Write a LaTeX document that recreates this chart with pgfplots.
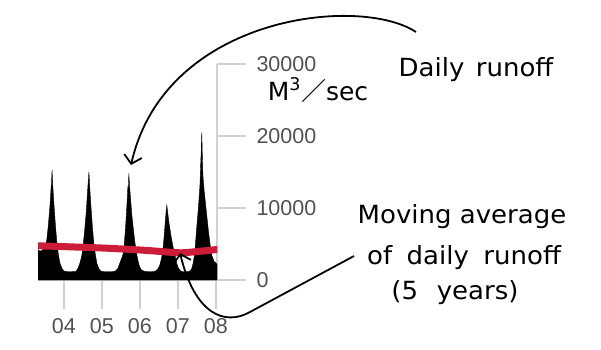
\documentclass[border=0pt]{standalone}
\usepackage{pgfplots}
\pgfplotsset{compat=1.18}
\usepackage{graphicx}
\usepackage{fontspec}
\setmainfont{Liberation Sans}
\newfontfamily\dejavu{DejaVu Sans}
\newfontfamily\jp{Noto Sans CJK JP}
\usetikzlibrary{arrows.meta}
\definecolor{mavg}{RGB}{205,28,55}
\definecolor{axgray}{RGB}{208,208,208}
\newcommand{\ann}[1]{\scalebox{1.04}[1]{#1}}
\begin{document}
\begin{tikzpicture}
\useasboundingbox (0pt,0pt) rectangle (601pt,349pt);
\begin{axis}[
  at={(38pt,69pt)}, anchor=south west, scale only axis,
  width=179pt, height=216pt,
  xmin=2003.32, xmax=2008.03, ymin=0, ymax=30000,
  axis x line*=bottom, axis y line*=right,
  axis line style={draw=axgray, line width=1.5pt},
  xtick={2004,2005,2006,2007,2008}, xticklabels={04,05,06,07,08},
  ytick={0,10000,20000,30000},
  scaled y ticks=false,
  yticklabel style={/pgf/number format/1000 sep={}, xshift=7pt},
  xticklabel style={yshift=-6pt},
  tick align=outside, major tick length=29pt,
  tick style={draw=axgray, line width=1.5pt},
  ticklabel style={font=\fontsize{21.5}{22}\selectfont, text=black!68},
  /pgf/number format/assume math mode=true,
]
\addplot[fill=black, draw=black, line width=0.4pt] table {
x y
2003.32 4200
2003.37 4000
2003.42 4100
2003.47 4300
2003.51 4800
2003.55 5500
2003.59 7500
2003.63 10000
2003.66 12500
2003.675 13500
2003.69 15300
2003.71 13000
2003.74 10500
2003.78 7500
2003.82 5000
2003.86 3400
2003.90 2300
2003.95 1600
2004.00 1250
2004.10 1150
2004.22 1150
2004.32 1200
2004.37 1600
2004.42 2300
2004.47 3300
2004.51 5000
2004.55 7000
2004.59 9500
2004.62 12000
2004.64 13500
2004.66 15000
2004.68 13000
2004.71 10500
2004.75 7500
2004.79 5000
2004.83 3500
2004.87 2300
2004.92 1600
2004.97 1250
2005.05 1150
2005.20 1150
2005.28 1150
2005.36 1250
2005.42 1600
2005.47 2300
2005.52 3000
2005.56 3600
2005.59 5000
2005.62 7000
2005.65 9500
2005.67 11500
2005.685 13000
2005.695 12300
2005.71 14800
2005.73 13000
2005.76 11000
2005.79 9000
2005.83 7000
2005.87 5200
2005.91 3800
2005.95 2700
2005.99 1900
2006.04 1400
2006.12 1200
2006.22 1150
2006.30 1150
2006.40 1200
2006.47 1500
2006.52 2000
2006.56 2800
2006.60 3800
2006.63 5500
2006.66 7500
2006.69 9500
2006.71 10400
2006.73 9500
2006.76 8200
2006.80 6800
2006.84 5500
2006.89 4200
2006.93 3300
2006.97 2300
2007.01 1700
2007.06 1300
2007.12 1150
2007.22 1150
2007.30 1200
2007.36 1500
2007.40 2300
2007.44 3500
2007.47 5500
2007.50 7500
2007.54 10000
2007.58 13000
2007.60 16000
2007.615 18000
2007.63 20500
2007.645 17000
2007.66 14500
2007.69 12500
2007.73 10500
2007.77 8500
2007.81 6500
2007.86 4500
2007.90 3300
2007.95 2600
2008.03 2200
} \closedcycle;
\addplot[mavg, line width=7pt, smooth] coordinates {
(2003.30,4750) (2004.2,4600) (2005.2,4400) (2006.2,4100) (2006.8,3850) (2007.1,3780) (2007.5,3950) (2008.05,4250)
};
\end{axis}
% annotations
\node[anchor=base, font=\dejavu\fontsize{25}{25}\selectfont] at (476pt,273pt) {\ann{Daily\hspace{3pt} runoff}};
\node[anchor=base, font=\dejavu\fontsize{25}{25}\selectfont] at (318pt,249pt) {M\textsuperscript{3}{\jp ／}sec};
\node[anchor=base, font=\dejavu\fontsize{25}{25}\selectfont] at (462pt,126pt) {\ann{Moving average}};
\node[anchor=base, font=\dejavu\fontsize{25}{25}\selectfont] at (464pt,85pt) {\ann{of\hspace{6pt} daily\hspace{6pt} runoff}};
\node[anchor=base, font=\dejavu\fontsize{25}{25}\selectfont] at (455pt,50pt) {\ann{(5\hspace{10pt} years)}};
\draw[line width=1.8pt, -{Straight Barb[length=8pt,width=18pt]}]
  (416pt,317pt) .. controls (360pt,354pt) and (165pt,334pt) .. (131pt,184pt);
\draw[line width=1.8pt, -{Straight Barb[length=8pt,width=18pt]}]
  (354pt,93pt) -- (250pt,37pt) .. controls (225pt,23pt) and (195pt,34pt) .. (180pt,96pt);
\end{tikzpicture}
\end{document}
